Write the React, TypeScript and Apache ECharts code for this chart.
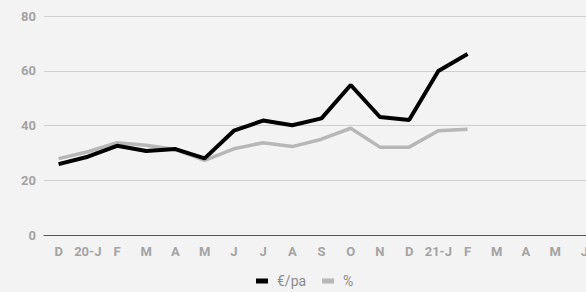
import React, { useEffect, useRef } from "react";
import * as echarts from "echarts";

const categories = ["D", "20-J", "F", "M", "A", "M", "J", "J", "A", "S", "O", "N", "D", "21-J", "F", "M", "A", "M", "J"];
const euroPa = [25.9, 28.6, 32.6, 30.7, 31.4, 28.0, 38.1, 41.8, 40.1, 42.6, 54.8, 43.1, 42.0, 59.9, 66.1];
const percent = [27.9, 30.4, 33.7, 32.8, 31.2, 27.3, 31.5, 33.7, 32.3, 35.0, 39.0, 32.1, 32.1, 38.1, 38.6];
const seriesNames = ["€/pa", "%"];

export default function App() {
  const ref = useRef<HTMLDivElement>(null);
  useEffect(() => {
    if (!ref.current) return;
    const chart = echarts.init(ref.current, null, { renderer: "svg" });
    const labelStyle = { color: "#a3a3a3", fontFamily: "Roboto", fontSize: 13, fontWeight: "bold" as const };
    chart.setOption({
      animation: false,
      backgroundColor: "#f3f3f3",
      grid: { left: 44, width: 555, top: 16, bottom: 57, containLabel: false, outerBoundsMode: "none" },
      legend: {
        top: 274,
        left: 256,
        padding: 0,
        itemWidth: 12,
        itemHeight: 5,
        itemGap: 16,
        icon: "rect",
        textStyle: { color: "#8a8a8a", fontFamily: "Roboto", fontSize: 14, padding: [0, 0, 0, 4] },
        data: seriesNames,
      },
      xAxis: {
        type: "category",
        data: categories,
        boundaryGap: true,
        axisLine: { lineStyle: { color: "#555", width: 1 } },
        axisTick: { show: false },
        axisLabel: { ...labelStyle, margin: 10, interval: 0 },
      },
      yAxis: {
        type: "value",
        min: 0,
        max: 80,
        interval: 20,
        axisLine: { show: false },
        axisTick: { show: false },
        axisLabel: { ...labelStyle, margin: 8 },
        splitLine: { lineStyle: { color: "#cfcfcf", width: 1 } },
      },
      series: [
        {
          name: seriesNames[0],
          type: "line",
          data: euroPa,
          symbol: "none",
          lineStyle: { color: "#000", width: 4 },
          itemStyle: { color: "#000" },
          z: 3,
        },
        {
          name: seriesNames[1],
          type: "line",
          data: percent,
          symbol: "none",
          lineStyle: { color: "#b7b7b7", width: 3.5 },
          itemStyle: { color: "#b7b7b7" },
          z: 2,
        },
      ],
    });
    return () => chart.dispose();
  }, []);
  return (
    <div
      ref={ref}
      style={{ position: "fixed", left: 0, top: 0, width: 586, height: 292, overflow: "hidden" }}
    />
  );
}
